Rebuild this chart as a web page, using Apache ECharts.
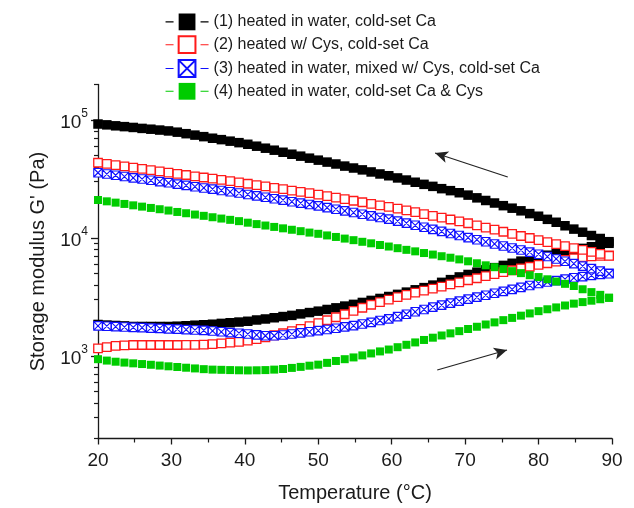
<!DOCTYPE html>
<html>
<head>
<meta charset="utf-8">
<script src="https://cdn.jsdelivr.net/npm/echarts@6/dist/echarts.min.js"></script>
<style>
  html, body { margin: 0; padding: 0; background: #ffffff; }
  #chart { width: 634px; height: 508px; }
</style>
</head>
<body>
<div id="chart"></div>
<script>
// Temperature steps of the ramp (°C); each sample has a heating and a cooling value
const temperature = [20.0,21.2,22.4,23.6,24.8,26.0,27.2,28.4,29.6,30.8,32.0,33.2,34.4,35.6,36.8,38.0,39.2,40.4,41.6,42.8,44.0,45.2,46.4,47.6,48.8,50.0,51.2,52.4,53.6,54.8,56.0,57.2,58.4,59.6,60.8,62.0,63.2,64.4,65.6,66.8,68.0,69.2,70.4,71.6,72.8,74.0,75.2,76.4,77.6,78.8,80.0,81.2,82.4,83.6,84.8,86.0,87.2,88.4,89.6];

// Storage modulus G' (Pa), listed in order of increasing temperature
const g1Heat = [1850,1830,1815,1800,1780,1780,1780,1780,1780,1790,1805,1825,1840,1860,1890,1915,1940,1970,2020,2060,2110,2160,2210,2275,2335,2400,2480,2560,2650,2740,2845,2960,3075,3195,3330,3480,3640,3800,3990,4210,4440,4680,4910,5140,5370,5610,5860,6110,6370,6640,6920,7150,7390,7640,7900,8170,8440,8730,9020];
const g1Cool = [92500,91000,89300,87900,86500,84900,83600,82200,80800,78900,76600,74500,72300,70100,68200,66200,64300,62300,60000,57700,55500,53300,51300,49400,47500,45700,44000,42400,40700,39200,37800,36300,34900,33700,32300,31000,29700,28500,27400,26200,25200,24200,23100,21900,20800,19800,18800,17900,17000,16100,15300,14400,13600,12700,11900,11200,10500,9910,9310];

const g2Heat = [1160,1190,1220,1230,1240,1240,1240,1240,1240,1240,1245,1245,1250,1260,1280,1300,1320,1350,1390,1440,1500,1560,1625,1700,1790,1900,2010,2130,2260,2415,2565,2720,2860,3005,3160,3300,3440,3580,3725,3880,4045,4210,4385,4560,4750,4950,5150,5330,5520,5710,5920,6110,6310,6520,6740,6900,6980,7060,7140];
const g2Cool = [43450,42460,41400,40460,39450,38550,37580,36730,35810,34990,34200,33340,32580,31840,31050,30340,29580,28840,28050,27350,26610,25940,25240,24600,23990,23330,22650,21980,21330,20700,20090,19500,18920,18370,17780,17140,16560,15960,15420,14860,14350,13840,13340,12790,12270,11780,11300,10840,10400,10000,9590,9230,8890,8550,8220,7920,7620,7330,7060];

const g3Heat = [1800,1790,1775,1760,1750,1740,1725,1715,1700,1690,1675,1660,1650,1630,1605,1580,1560,1535,1510,1485,1485,1505,1535,1570,1605,1640,1680,1720,1765,1810,1870,1930,2000,2065,2155,2260,2370,2480,2595,2700,2805,2920,3035,3155,3275,3400,3530,3670,3820,3965,4120,4240,4355,4480,4600,4710,4820,4920,5035];
const g3Cool = [35730,34830,34040,33190,32360,31620,30830,30060,29380,28640,27930,27230,26550,25940,25290,24660,24040,23390,22750,22130,21530,20940,20320,19770,19230,18710,18110,17540,16980,16440,15920,15420,14930,14450,13900,13370,12820,12330,11830,11380,10920,10490,10070,9680,9290,8910,8570,8220,7910,7590,7290,6970,6650,6350,6070,5780,5500,5240,4980];

const g4Heat = [940,915,895,880,867,855,843,830,818,807,796,785,774,767,764,760,757,755,757,760,767,776,793,809,828,845,875,908,940,973,1012,1052,1094,1135,1188,1245,1304,1368,1430,1493,1556,1625,1695,1770,1850,1928,2014,2104,2198,2296,2400,2490,2582,2680,2780,2864,2944,3027,3112];
const g4Cool = [20990,20460,19950,19450,18920,18450,17990,17540,17100,16630,16220,15810,15420,15000,14620,14260,13900,13490,13120,12760,12420,12080,11750,11430,11120,10860,10520,10210,9890,9590,9290,9020,8730,8470,8200,7940,7710,7460,7240,7010,6810,6590,6350,6110,5870,5660,5450,5240,5040,4840,4670,4470,4280,4090,3920,3680,3480,3300,3120];

const seriesNames = [
  '(1) heated in water, cold-set Ca',
  '(2) heated w/ Cys, cold-set Ca',
  '(3) heated in water, mixed w/ Cys, cold-set Ca',
  '(4) heated in water, cold-set Ca & Cys'
];

// Axis ticks
const yMajorTicks = [1000, 10000, 100000];
const yMinorTicks = [200,300,400,500,600,700,800,900,2000,3000,4000,5000,6000,7000,8000,9000,20000,30000,40000,50000,60000,70000,80000,90000,200000];

// Ramp direction arrows: [start, end] in (°C, Pa)
const coolingArrow = [[75.8, 32900], [65.9, 52500]];
const heatingArrow = [[66.2, 761], [75.7, 1124]];

const FONT = "'Liberation Sans', Arial, sans-serif";
const INK = '#1a1a1a';

// Heating run goes up in temperature, cooling run comes back down
function sweep(heat, cool) {
  const pts = heat.map((g, i) => [temperature[i], g]);
  for (let i = cool.length - 1; i >= 0; i--) pts.push([temperature[i], cool[i]]);
  return pts;
}

const crossBox = 'path://M0,0H10V10H0Z M0,0L10,10 M10,0L0,10';

const chart = echarts.init(document.getElementById('chart'), null, { renderer: 'canvas' });

function yAxisBase(extra) {
  return Object.assign({
    type: 'log',
    logBase: 10,
    min: 200,
    max: 200000,
    position: 'left',
    splitLine: { show: false },
    minorTick: { show: false },
    minorSplitLine: { show: false }
  }, extra);
}

const option = {
  animation: false,
  backgroundColor: '#ffffff',
  textStyle: { fontFamily: FONT },
  grid: {
    left: 98, right: 22, top: 84.5, bottom: 69.5,
    containLabel: false,
    outerBoundsMode: 'none'
  },
  legend: {
    orient: 'vertical',
    left: 165,
    top: 13.5,
    padding: 0,
    itemWidth: 43,
    itemHeight: 21,
    itemGap: 5,
    selectedMode: false,
    data: seriesNames,
    textStyle: { fontFamily: FONT, fontSize: 16, color: INK },
    lineStyle: { width: 1.1, type: [8, 27] }
  },
  xAxis: {
    type: 'value',
    min: 20,
    max: 90,
    interval: 10,
    name: 'Temperature (°C)',
    nameLocation: 'middle',
    nameGap: 45,
    nameTextStyle: { fontFamily: FONT, fontSize: 20, color: INK },
    axisLine: { show: true, onZero: false, lineStyle: { color: INK, width: 1.3 } },
    axisTick: { show: true, inside: false, length: 6, lineStyle: { color: INK, width: 1.3 } },
    minorTick: { show: true, splitNumber: 2, length: 4, lineStyle: { color: INK, width: 1.2 } },
    axisLabel: { fontFamily: FONT, fontSize: 19, color: INK, margin: 13 },
    splitLine: { show: false },
    minorSplitLine: { show: false }
  },
  yAxis: [
    yAxisBase({
      name: "Storage modulus G' (Pa)",
      nameLocation: 'middle',
      nameGap: 50,
      nameTextStyle: { fontFamily: FONT, fontSize: 20, color: INK },
      axisLine: { show: true, lineStyle: { color: INK, width: 1.3 } },
      axisTick: { show: true, inside: false, length: 7, customValues: yMajorTicks, lineStyle: { color: INK, width: 1.3 } },
      axisLabel: {
        show: true,
        customValues: yMajorTicks,
        margin: 10,
        formatter: function (v) {
          const e = Math.round(Math.log10(v));
          return '{b|10}{s|' + e + '}';
        },
        rich: {
          b: { fontFamily: FONT, fontSize: 19, color: INK, lineHeight: 24, verticalAlign: 'bottom' },
          s: { fontFamily: FONT, fontSize: 12, color: INK, lineHeight: 14, verticalAlign: 'top' }
        }
      }
    }),
    yAxisBase({
      axisLine: { show: false },
      axisTick: { show: true, inside: false, length: 4, customValues: yMinorTicks, lineStyle: { color: INK, width: 1.2 } },
      axisLabel: { show: false }
    })
  ],
  series: [
    {
      name: seriesNames[0],
      type: 'line',
      data: sweep(g1Heat, g1Cool),
      symbol: 'rect',
      symbolSize: 9.5,
      showSymbol: true,
      showAllSymbol: true,
      itemStyle: { color: '#000000' },
      lineStyle: { width: 0, color: '#000000' },
      emphasis: { disabled: true },
      z: 2,
      markLine: {
        silent: true,
        symbol: ['none', 'arrow'],
        symbolSize: [9, 13],
        label: { show: false },
        lineStyle: { color: '#222222', width: 1.2, type: 'solid' },
        emphasis: { disabled: true },
        data: [
          [{ coord: coolingArrow[0] }, { coord: coolingArrow[1] }],
          [{ coord: heatingArrow[0] }, { coord: heatingArrow[1] }]
        ]
      }
    },
    {
      name: seriesNames[1],
      type: 'line',
      data: sweep(g2Heat, g2Cool),
      symbol: 'rect',
      symbolSize: 8.5,
      showSymbol: true,
      showAllSymbol: true,
      itemStyle: { color: '#ffffff', borderColor: '#ff1a1a', borderWidth: 1.3 },
      lineStyle: { width: 0, color: '#ff1a1a' },
      emphasis: { disabled: true },
      z: 3
    },
    {
      name: seriesNames[2],
      type: 'line',
      data: sweep(g3Heat, g3Cool),
      symbol: crossBox,
      symbolSize: 8.5,
      showSymbol: true,
      showAllSymbol: true,
      itemStyle: { color: '#ffffff', borderColor: '#1010ff', borderWidth: 1.1 },
      lineStyle: { width: 0, color: '#1010ff' },
      emphasis: { disabled: true },
      z: 4
    },
    {
      name: seriesNames[3],
      type: 'line',
      data: sweep(g4Heat, g4Cool),
      symbol: 'rect',
      symbolSize: 8,
      showSymbol: true,
      showAllSymbol: true,
      itemStyle: { color: '#00cc00' },
      lineStyle: { width: 0, color: '#00cc00' },
      emphasis: { disabled: true },
      z: 5
    }
  ]
};

chart.setOption(option);
</script>
</body>
</html>
